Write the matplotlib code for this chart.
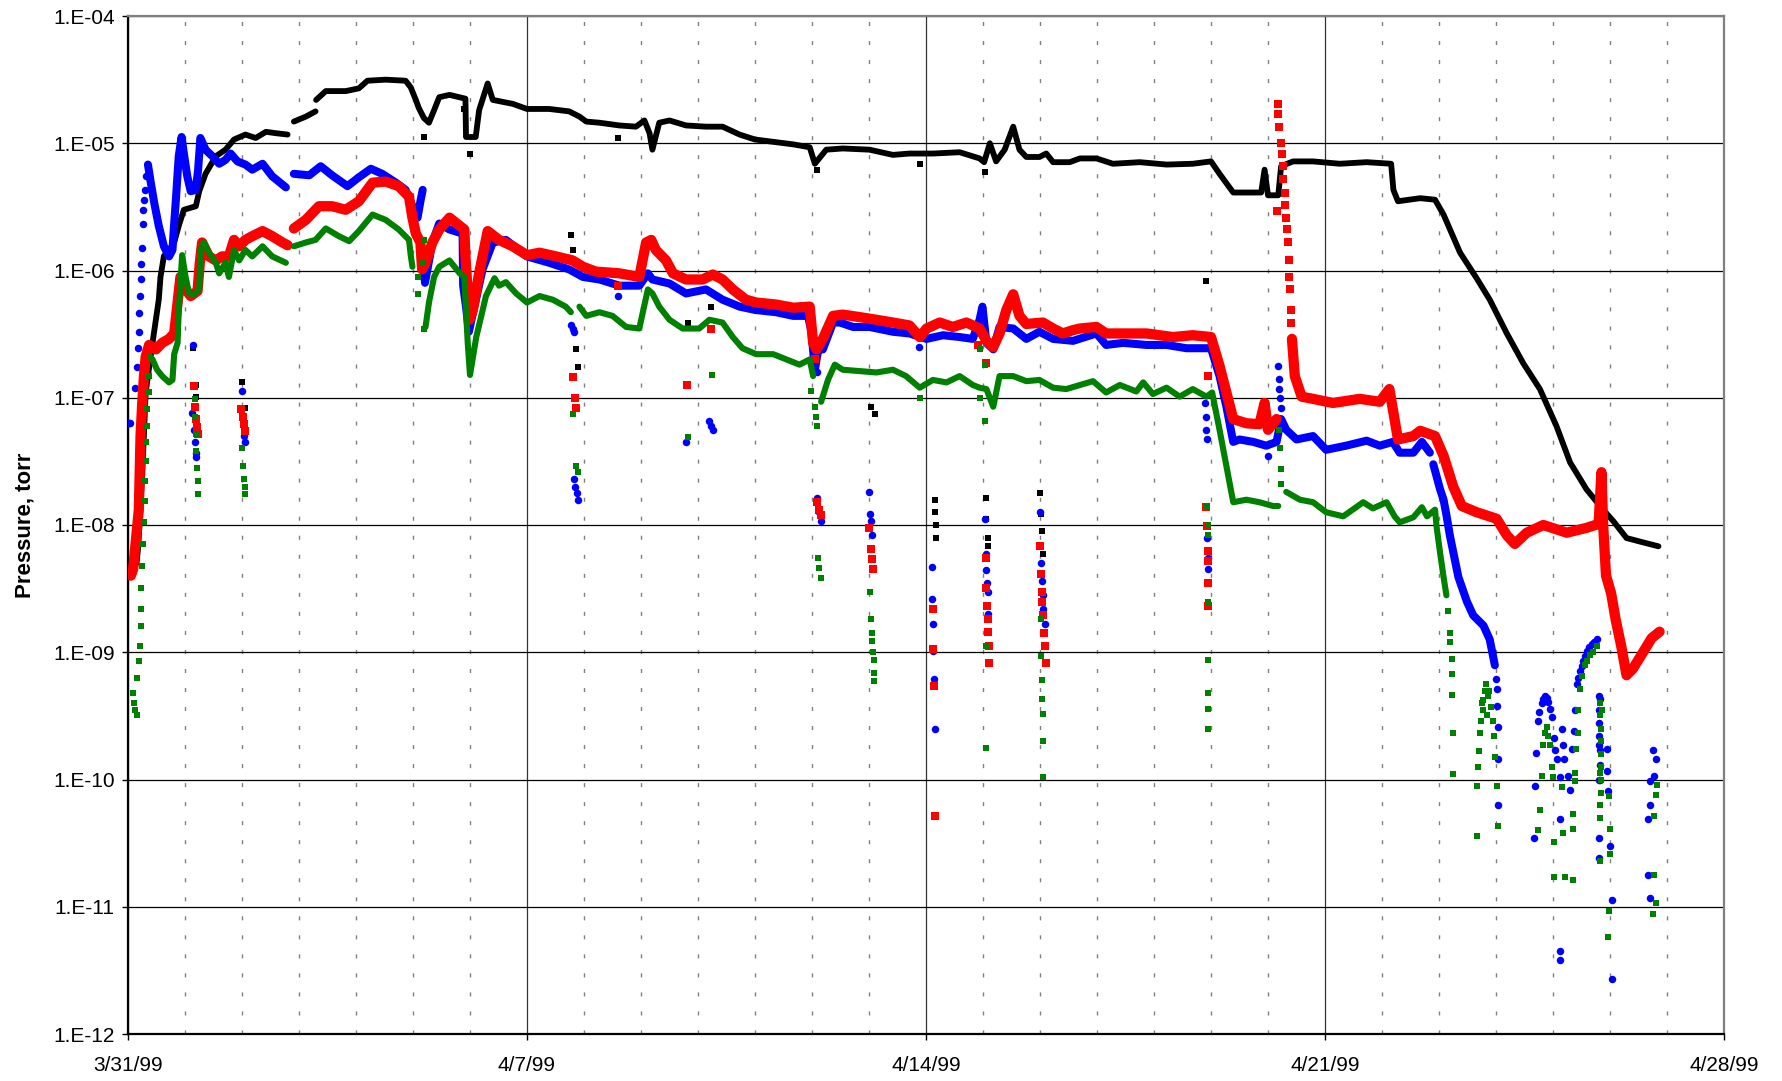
"""
Chamber pressure history, 3/31/99 - 4/28/99, four gauges on a log scale.
Dense stretches are drawn as thick traces, dropouts and scattered
readings as individual markers.
"""
import matplotlib
matplotlib.use("Agg")
import matplotlib.pyplot as plt
import numpy as np
from matplotlib.ticker import FixedLocator, FixedFormatter, NullLocator

nan = np.nan

# ---- axis labels ----
x_ticks = [0, 7, 14, 21, 28]
x_labels = ["3/31/99", "4/7/99", "4/14/99", "4/21/99", "4/28/99"]
y_ticks = [1e-12, 1e-11, 1e-10, 1e-9, 1e-8, 1e-7, 1e-6, 1e-5, 1e-4]
y_labels = ["1.E-12", "1.E-11", "1.E-10", "1.E-09", "1.E-08",
            "1.E-07", "1.E-06", "1.E-05", "1.E-04"]

# ---- black gauge (days since 3/31/99, torr) ----
black_day = [0.15, 0.18, 0.25, 0.31, 0.43, 0.54, 0.57, 0.63, 0.72, 0.81, 0.89, 0.98,
             1.19, 1.25, 1.36, 1.54, 1.71, 1.86, 2.06, 2.24, 2.42, 2.59, 2.80, nan,
             2.91, 3.12, 3.29, nan, 3.30, 3.47, 3.82, 4.05, 4.20, 4.52, 4.87, 4.96,
             5.05, 5.10, 5.19, 5.28, 5.37, 5.46, 5.64, 5.92, 5.93, 6.10, 6.16, 6.31,
             6.40, 6.75, 7.00, 7.39, 7.74, 7.92, 8.04, 8.27, 8.62, 8.91, 9.06, 9.15,
             9.20, 9.32, 9.50, 9.79, 10.14, 10.43, 10.73, 11.00, 11.67, 11.96, 12.05,
             12.25, 12.54, 13.01, 13.42, 13.71, 14.12, 14.59, 14.94, 15.02, 15.12,
             15.23, 15.38, 15.53, 15.64, 15.76, 15.99, 16.11, 16.23, 16.52, 16.70,
             16.99, 17.28, 17.75, 18.22, 18.68, 19.00, 19.15, 19.39, 19.62, 19.88,
             19.94, 20.00, 20.18, 20.23, 20.44, 20.79, 21.26, 21.73, 22.16, 22.20,
             22.28, 22.67, 22.93, 23.08, 23.37, 23.66, 23.89, 24.19, 24.48, 24.77,
             25.06, 25.30, 25.59, 25.88, 26.06, 26.29, 26.53, 26.85]
black_p = [5.0e-9, 6.8e-9, 2.5e-8, 1.1e-7, 2.7e-7, 5.9e-7, 8.9e-7, 1.3e-6, 1.45e-6, 1.66e-6, 2.24e-6, 3.0e-6,
           3.2e-6, 4.2e-6, 5.75e-6, 7.9e-6, 8.9e-6, 1.07e-5, 1.17e-5, 1.1e-5, 1.23e-5, 1.2e-5, 1.17e-5, nan,
           1.48e-5, 1.62e-5, 1.78e-5, nan, 2.19e-5, 2.57e-5, 2.57e-5, 2.7e-5, 3.1e-5, 3.16e-5, 3.1e-5, 2.75e-5,
           2.19e-5, 1.9e-5, 1.58e-5, 1.45e-5, 1.82e-5, 2.3e-5, 2.4e-5, 2.24e-5, 1.12e-5, 1.12e-5, 1.82e-5, 2.95e-5,
           2.19e-5, 2.04e-5, 1.86e-5, 1.86e-5, 1.78e-5, 1.62e-5, 1.48e-5, 1.45e-5, 1.38e-5, 1.35e-5, 1.51e-5, 1.2e-5,
           8.9e-6, 1.45e-5, 1.51e-5, 1.38e-5, 1.35e-5, 1.35e-5, 1.17e-5, 1.07e-5, 9.8e-6, 9.3e-6, 6.9e-6,
           8.9e-6, 9.1e-6, 8.9e-6, 8.1e-6, 8.3e-6, 8.3e-6, 8.5e-6, 7.6e-6, 7.1e-6, 1.0e-5,
           7.2e-6, 8.9e-6, 1.35e-5, 8.9e-6, 7.8e-6, 7.8e-6, 8.3e-6, 7.1e-6, 7.1e-6, 7.6e-6,
           7.6e-6, 6.9e-6, 7.1e-6, 6.8e-6, 6.9e-6, 7.2e-6, 5.75e-6, 4.1e-6, 4.1e-6, 4.1e-6,
           6.2e-6, 3.9e-6, 3.9e-6, 6.6e-6, 7.2e-6, 7.2e-6, 6.9e-6, 7.1e-6, 6.9e-6, 4.3e-6,
           3.5e-6, 3.7e-6, 3.6e-6, 2.75e-6, 1.38e-6, 8.7e-7, 5.9e-7, 3.2e-7, 1.86e-7, 1.17e-7,
           6.0e-8, 3.1e-8, 1.9e-8, 1.32e-8, 1.07e-8, 7.9e-9, 7.4e-9, 6.8e-9]
black_dot_day = [1.14, 1.19, 1.20, 2.00, 2.05, 5.19, 5.90, 6.00, 7.77, 7.80, 7.86, 7.89,
                 8.59, 9.82, 10.23, 12.08, 13.04, 13.10, 13.89, 14.15, 14.16, 14.17, 14.18,
                 15.04, 15.05, 15.06, 15.08, 15.09, 16.00, 16.02, 16.04, 16.06, 18.92]
black_dot_p = [2.45e-7, 1.26e-7, 1.02e-7, 1.32e-7, 8.3e-8, 1.12e-5, 1.86e-5, 8.3e-6, 1.9e-6, 1.45e-6, 2.4e-7, 1.74e-7,
               1.1e-5, 3.9e-7, 5.2e-7, 6.2e-6, 8.5e-8, 7.4e-8, 6.9e-6, 1.58e-8, 1.26e-8, 1.0e-8, 7.9e-9,
               5.9e-6, 1.62e-8, 1.12e-8, 7.9e-9, 6.8e-9, 1.78e-8, 1.23e-8, 8.9e-9, 5.9e-9, 8.3e-7]

# ---- blue gauge ----
blue_day = [0.35, 0.40, 0.46, 0.54, 0.63, 0.72, 0.78, 0.81, 0.84, 0.87, 0.89, 0.94,
            0.98, 1.04, 1.10, 1.19, 1.23, 1.27, 1.36, 1.48, 1.60, 1.71, 1.80, 1.92, 2.06,
            2.18, 2.36, 2.53, 2.77, nan, 2.91, 3.18, 3.38, 3.58, 3.85, 4.05, 4.26, 4.46,
            4.70, 4.87, 4.99, 5.08, 5.13, 5.17, nan, 5.19, 5.21, 5.34, 5.46, 5.64, 5.87,
            5.88, 5.93, 5.98, 6.22, 6.40, 6.63, 7.00, 7.39, 7.74, 7.98, 8.27, 8.62, 8.97,
            9.12, 9.20, 9.50, 9.79, 10.14, 10.43, 10.73, 11.00, 11.37, 11.67, 11.93, 11.99,
            12.05, 12.11, 12.19, 12.37, 12.49, 12.72, 13.01, 13.42, 13.71, 14.01, 14.30,
            14.59, 14.82, 14.94, 14.99, 15.06, 15.18, 15.29, 15.53, 15.76, 15.99, 16.23,
            16.58, 16.99, 17.16, 17.46, 17.87, 18.22, 18.57, 19.00, 19.15, 19.27, 19.39,
            19.50, 19.74, 19.97, 20.15, 20.23, 20.32, 20.50, 20.79, 21.02, 21.37, 21.73,
            21.96, 22.19, 22.31, 22.55, 22.70, 22.84, nan, 22.90, 23.02, 23.08, 23.13,
            23.19, 23.34, 23.49, 23.60, 23.78, 23.89, 23.98]
blue_p = [6.8e-6, 4.9e-6, 3.4e-6, 2.24e-6, 1.55e-6, 1.29e-6, 1.45e-6, 2.34e-6, 3.6e-6, 5.75e-6, 7.9e-6, 1.12e-5,
          8.3e-6, 5.5e-6, 4.2e-6, 4.3e-6, 6.2e-6, 1.1e-5, 8.9e-6, 7.9e-6, 6.9e-6, 7.4e-6, 8.3e-6, 7.2e-6, 6.8e-6,
          6.2e-6, 6.9e-6, 5.5e-6, 4.5e-6, nan, 5.75e-6, 5.6e-6, 6.6e-6, 5.6e-6, 4.6e-6, 5.4e-6, 6.3e-6, 5.75e-6,
          4.9e-6, 4.3e-6, 3.2e-6, 2.6e-6, 3.5e-6, 4.3e-6, nan, 1.15e-6, 8.0e-7, 1.66e-6, 2.34e-6, 2.1e-6, 1.95e-6,
          7.6e-7, 5.2e-7, 3.3e-7, 1.02e-6, 1.66e-6, 1.74e-6, 1.29e-6, 1.15e-6, 1.02e-6, 8.9e-7, 8.5e-7, 7.6e-7, 7.6e-7,
          9.5e-7, 8.5e-7, 7.9e-7, 6.6e-7, 7.1e-7, 5.9e-7, 5.2e-7, 4.9e-7, 4.7e-7, 4.4e-7, 4.4e-7, 3.3e-7,
          1.66e-7, 2.4e-7, 2.4e-7, 3.9e-7, 3.9e-7, 3.6e-7, 3.6e-7, 3.3e-7, 3.2e-7, 2.9e-7, 3.1e-7,
          3.0e-7, 2.9e-7, 4.1e-7, 5.2e-7, 2.7e-7, 2.4e-7, 3.6e-7, 3.5e-7, 2.9e-7, 3.3e-7, 2.9e-7,
          2.8e-7, 3.2e-7, 2.6e-7, 2.7e-7, 2.6e-7, 2.6e-7, 2.45e-7, 2.45e-7, 1.48e-7, 8.5e-8, 4.5e-8,
          4.7e-8, 4.5e-8, 4.2e-8, 4.5e-8, 6.8e-8, 5.6e-8, 4.7e-8, 5.0e-8, 3.9e-8, 4.2e-8, 4.6e-8,
          4.2e-8, 4.5e-8, 3.7e-8, 3.7e-8, 4.5e-8, 3.7e-8, nan, 3.0e-8, 1.9e-8, 1.58e-8, 1.2e-8,
          8.3e-9, 3.9e-9, 2.5e-9, 1.95e-9, 1.62e-9, 1.26e-9, 7.9e-10]
blue_dot_day = [0.00, 0.02, 0.04, 0.13, 0.16, 0.18, 0.19, 0.20, 0.21, 0.22, 0.23, 0.25,
                0.26, 0.27, 0.28, 0.30, 0.32,
                1.14, 1.12, 1.15, 1.17, 1.19, 1.20, 2.00, 2.04, 2.05,
                7.77, 7.80, 7.83, 7.83, 7.85, 7.87, 7.89, 8.59, 9.79, 10.20, 10.23, 10.26,
                12.05, 12.08, 12.08, 12.12, 12.16, 13.00, 13.02, 13.04, 13.06, 13.87,
                14.10, 14.11, 14.12, 14.13, 14.14, 14.15,
                15.04, 15.05, 15.06, 15.07, 15.08, 15.09,
                16.00, 16.02, 16.04, 16.05, 16.06, 16.08,
                18.90, 18.91, 18.92, 18.93, 18.93, 18.94, 18.94, 20.00,
                20.18, 20.19, 20.20, 20.21, 20.23,
                24.00, 24.01, 24.02, 24.03, 24.03, 24.04,
                24.66, 24.68, 24.70, 24.73, 24.75, 24.80, 24.83, 24.86, 24.89, 24.92, 24.95,
                24.98, 25.01, 25.04, 25.07, 25.12, 25.15, 25.18, 25.20, 25.26, 25.30, 25.33,
                25.36, 25.39, 25.42, 25.44, 25.47, 25.50, 25.53, 25.56, 25.59, 25.63, 25.68,
                25.72, 25.77, 25.13, 25.13, 25.12,
                25.80, 25.80, 25.81, 25.81, 25.82, 25.82, 25.83, 25.82, 25.81, 25.80, 25.80, 25.81,
                25.94, 25.95, 25.97, 26.00, 26.03, 26.03,
                26.67, 26.67, 26.70, 26.76, 26.80, 26.78, 26.70, 26.70]
blue_dot_p = [6.3e-8, 6.3e-8, 6.3e-8, 1.2e-7, 1.74e-7, 2.45e-7, 3.3e-7, 4.6e-7, 6.3e-7, 8.5e-7, 1.12e-6, 1.51e-6,
              2.34e-6, 3.0e-6, 3.6e-6, 4.3e-6, 5.5e-6,
              2.6e-7, 7.6e-8, 5.6e-8, 4.5e-8, 3.7e-8, 3.4e-8, 1.12e-7, 5.0e-8, 4.5e-8,
              3.7e-7, 3.5e-7, 3.3e-7, 2.3e-8, 2.0e-8, 1.8e-8, 1.58e-8, 6.3e-7, 4.5e-8, 6.6e-8, 6.0e-8, 5.6e-8,
              1.86e-7, 1.58e-7, 1.62e-8, 1.26e-8, 1.07e-8, 1.82e-8, 1.23e-8, 1.07e-8, 8.3e-9, 2.5e-7,
              4.7e-9, 2.6e-9, 1.66e-9, 1.02e-9, 6.2e-10, 2.5e-10,
              1.12e-8, 5.9e-9, 4.4e-9, 3.5e-9, 3.0e-9, 2.0e-9,
              1.26e-8, 5.0e-9, 3.6e-9, 2.8e-9, 2.2e-9, 1.66e-9,
              9.1e-8, 7.0e-8, 5.6e-8, 4.7e-8, 7.9e-9, 5.5e-9, 4.5e-9, 3.5e-8,
              1.78e-7, 1.41e-7, 1.17e-7, 1.0e-7, 8.3e-8,
              6.2e-10, 5.1e-10, 3.8e-10, 2.6e-10, 1.45e-10, 6.3e-11,
              3.5e-11, 8.9e-11, 1.62e-10, 2.9e-10, 3.4e-10, 4.0e-10, 4.3e-10, 4.5e-10, 4.4e-10, 4.1e-10, 3.6e-10,
              3.1e-10, 2.1e-10, 1.7e-10, 1.45e-10, 1.05e-10, 2.5e-10, 1.86e-10, 1.45e-10, 1.07e-10, 8.3e-11, 1.74e-10,
              2.4e-10, 3.5e-10, 5.6e-10, 6.3e-10, 7.1e-10, 7.8e-10, 8.5e-10, 9.3e-10, 1.02e-9, 1.1e-9, 1.17e-9,
              1.2e-9, 1.26e-9, 4.9e-11, 4.5e-12, 3.8e-12,
              4.5e-10, 3.5e-10, 2.8e-10, 2.2e-10, 1.7e-10, 1.3e-10, 4.3e-10, 1.0e-10, 1.86e-10, 1.0e-10, 3.5e-11, 2.4e-11,
              1.74e-10, 1.17e-10, 8.1e-11, 3.0e-11, 1.12e-11, 2.7e-12,
              4.9e-11, 1.78e-11, 1.17e-11, 1.7e-10, 1.45e-10, 1.07e-10, 9.8e-11, 6.3e-11]

# ---- red gauge ----
red_day = [0.05, 0.09, 0.19, 0.22, 0.25, 0.28, 0.31, 0.37, 0.49, 0.60, 0.72, 0.81, 0.87,
           0.92, 1.01, 1.10, 1.22, 1.26, 1.30, 1.42, 1.54, 1.65, 1.77, 1.86, 1.95, 2.06,
           2.18, 2.36, 2.53, 2.71, 2.80, nan, 2.91, 3.12, 3.35, 3.58, 3.82, 4.05, 4.29,
           4.52, 4.75, 4.93, 4.99, 5.05, 5.13, 5.16, 5.22, 5.34, 5.46, 5.64, 5.82, 5.90,
           5.92, 5.96, 5.99, 6.05, 6.16, 6.31, 6.51, 6.75, 7.00, 7.22, 7.51, 7.80, 7.98,
           8.21, 8.62, 8.97, 9.09, 9.18, 9.26, 9.44, 9.56, 9.79, 10.08, 10.26, 10.43,
           10.61, 10.84, 11.02, 11.37, 11.67, 11.96, 12.02, 12.08, 12.19, 12.37, 12.54,
           12.84, 13.13, 13.42, 13.71, 13.89, 14.01, 14.24, 14.47, 14.71, 14.94, 15.06,
           15.18, 15.29, 15.41, 15.53, 15.64, 15.76, 16.05, 16.23, 16.40, 16.58, 16.70,
           16.99, 17.16, 17.46, 17.87, 18.33, 18.68, 19.00, 19.15, 19.27, 19.39, 19.62,
           19.85, 19.94, 20.00, 20.15, nan, 20.42, 20.47, 20.59, 20.79, 21.14, 21.61,
           21.96, 22.13, 22.22, 22.28, 22.55, 22.67, 22.93, 23.08, 23.25, 23.40, 23.66,
           24.01, 24.19, 24.33, 24.54, 24.83, 25.24, 25.59, 25.80, 25.85, 25.88, 25.93,
           26.02, 26.10, 26.20, 26.29, 26.40, 26.55, 26.73, 26.87]
red_p = [4.0e-9, 4.5e-9, 1.32e-8, 5.0e-8, 9.1e-8, 1.48e-7, 2.1e-7, 2.6e-7, 2.4e-7, 2.7e-7, 2.9e-7, 3.2e-7, 5.6e-7,
         8.9e-7, 7.1e-7, 6.3e-7, 6.9e-7, 1.15e-6, 1.66e-6, 1.29e-6, 1.2e-6, 1.29e-6, 1.29e-6, 1.74e-6, 1.55e-6, 1.74e-6,
         1.86e-6, 2.04e-6, 1.86e-6, 1.66e-6, 1.58e-6, nan, 2.14e-6, 2.5e-6, 3.2e-6, 3.2e-6, 3.0e-6, 3.5e-6, 4.9e-6,
         5.0e-6, 4.6e-6, 3.8e-6, 2.6e-6, 1.95e-6, 1.66e-6, 1.02e-6, 1.15e-6, 1.66e-6, 2.1e-6, 2.6e-6, 2.24e-6, 2.1e-6,
         1.29e-6, 6.6e-7, 4.1e-7, 4.9e-7, 9.5e-7, 2.04e-6, 1.74e-6, 1.55e-6, 1.32e-6, 1.38e-6, 1.29e-6, 1.2e-6, 1.07e-6,
         9.8e-7, 9.5e-7, 8.9e-7, 1.66e-6, 1.74e-6, 1.45e-6, 1.2e-6, 9.5e-7, 8.5e-7, 8.5e-7, 9.3e-7, 8.5e-7,
         7.1e-7, 5.9e-7, 5.6e-7, 5.4e-7, 5.1e-7, 5.2e-7, 2.7e-7, 2.4e-7, 2.9e-7, 4.4e-7, 4.5e-7,
         4.3e-7, 4.1e-7, 3.9e-7, 3.7e-7, 3.0e-7, 3.5e-7, 3.9e-7, 3.6e-7, 3.9e-7, 3.5e-7, 2.8e-7,
         2.5e-7, 3.2e-7, 4.9e-7, 6.5e-7, 4.4e-7, 3.8e-7, 3.9e-7, 3.5e-7, 3.2e-7, 3.4e-7, 3.5e-7,
         3.6e-7, 3.2e-7, 3.2e-7, 3.2e-7, 3.0e-7, 3.1e-7, 3.0e-7, 1.78e-7, 1.1e-7, 6.8e-8, 6.3e-8,
         6.2e-8, 9.1e-8, 5.6e-8, 6.8e-8, nan, 2.9e-7, 1.48e-7, 1.02e-7, 9.8e-8, 9.1e-8, 9.8e-8,
         9.3e-8, 1.17e-7, 6.8e-8, 4.7e-8, 5.0e-8, 5.5e-8, 5.0e-8, 3.5e-8, 2.0e-8, 1.41e-8, 1.26e-8,
         1.12e-8, 8.3e-9, 7.1e-9, 8.7e-9, 1.0e-8, 8.7e-9, 9.5e-9, 1.02e-8, 2.6e-8, 1.0e-8, 4.0e-9,
         2.9e-9, 1.8e-9, 1.1e-9, 6.6e-10, 7.4e-10, 9.5e-10, 1.29e-9, 1.45e-9]
red_dot_day = [1.16, 1.17, 1.19, 1.21, 1.22, 1.98, 2.01, 2.04, 2.06, 7.80, 7.84, 7.86,
               8.59, 9.80, 10.23, 12.05, 12.08, 12.12, 12.15, 13.00, 13.03, 13.05, 13.07,
               14.12, 14.13, 14.14, 14.16, 14.91, 15.06,
               15.05, 15.06, 15.07, 15.08, 15.09, 15.10, 15.11,
               16.00, 16.02, 16.03, 16.04, 16.05, 16.07, 16.08, 16.10,
               18.94, 18.92, 18.93, 18.94, 18.94, 18.95, 18.95,
               20.15, 20.17, 20.18, 20.20, 20.22, 20.24, 20.26, 20.27, 20.29, 20.30, 20.32,
               20.33, 20.35, 20.36, 20.37, 20.38, 20.40, 20.41]
red_dot_p = [1.23e-7, 8.5e-8, 6.8e-8, 5.9e-8, 5.2e-8, 8.1e-8, 7.1e-8, 6.2e-8, 5.5e-8, 1.45e-7, 1.0e-7, 8.3e-8,
             7.6e-7, 1.26e-7, 3.5e-7, 2.0e-7, 1.51e-8, 1.32e-8, 1.2e-8, 9.5e-9, 6.5e-9, 5.4e-9, 4.5e-9,
             2.2e-9, 1.07e-9, 5.4e-10, 5.2e-11, 2.6e-7, 1.86e-7,
             5.5e-9, 3.2e-9, 2.3e-9, 1.82e-9, 1.45e-9, 1.12e-9, 8.3e-10,
             6.8e-9, 4.1e-9, 3.0e-9, 2.5e-9, 1.95e-9, 1.41e-9, 1.12e-9, 8.3e-10,
             1.48e-7, 1.38e-8, 9.8e-9, 6.3e-9, 5.2e-9, 3.5e-9, 2.3e-9,
             2.95e-6, 2.04e-5, 1.7e-5, 1.35e-5, 1.0e-5, 8.3e-6, 6.6e-6, 5.2e-6, 4.1e-6, 3.3e-6, 2.6e-6,
             2.1e-6, 1.66e-6, 1.2e-6, 8.9e-7, 7.1e-7, 4.9e-7, 3.9e-7]

# ---- green gauge ----
green_day = [0.39, 0.43, 0.51, 0.60, 0.72, 0.78, 0.81, 0.87, 0.89, 0.92, 0.95, 1.01,
             1.07, 1.16, 1.25, 1.27, 1.33, 1.42, 1.54, 1.60, 1.71, 1.77, 1.86, 1.95,
             2.06, 2.18, 2.36, 2.53, 2.77, nan, 2.91, 3.12, 3.29, 3.47, 3.70, 3.88,
             4.05, 4.29, 4.52, 4.75, 4.93, 4.96, 4.99, nan, 5.22, 5.28, 5.37, 5.46,
             5.64, 5.82, 5.90, 5.93, 5.96, 6.00, 6.11, 6.28, 6.43, 6.51, 6.63, 6.81,
             7.00, 7.22, 7.45, 7.68, 7.77, nan, 7.92, 8.04, 8.27, 8.50, 8.74, 8.97,
             9.12, 9.20, 9.32, 9.50, 9.73, 10.02, 10.20, 10.43, 10.61, 10.78, 11.02,
             11.32, 11.55, 11.78, 11.96, 12.02, nan, 12.16, 12.28, 12.40, 12.54, 12.84,
             13.13, 13.42, 13.65, 13.89, 14.12, 14.36, 14.59, 14.82, 14.94, 15.06,
             15.18, 15.29, 15.53, 15.76, 15.99, 16.23, 16.46, 16.70, 16.93, 17.16,
             17.40, 17.69, 17.81, 17.98, 18.22, 18.45, 18.68, 18.92, 19.02, 19.15,
             19.27, 19.39, 19.62, 19.85, 20.09, 20.18, nan, 20.32, 20.56, 20.79, 21.02,
             21.32, 21.67, 21.84, 22.08, 22.22, 22.31, 22.55, 22.70, 22.79, 22.93,
             22.96, 23.02, 23.08, 23.13]
green_p = [2.1e-7, 2.0e-7, 1.66e-7, 1.48e-7, 1.32e-7, 1.38e-7, 2.2e-7, 2.7e-7, 4.9e-7, 7.9e-7, 1.32e-6, 8.9e-7,
           6.6e-7, 6.5e-7, 7.1e-7, 1.45e-6, 1.66e-6, 1.38e-6, 1.15e-6, 9.5e-7, 1.15e-6, 8.9e-7, 1.45e-6, 1.2e-6,
           1.45e-6, 1.29e-6, 1.55e-6, 1.29e-6, 1.15e-6, nan, 1.55e-6, 1.66e-6, 1.74e-6, 2.14e-6, 1.86e-6, 1.7e-6,
           2.04e-6, 2.75e-6, 2.5e-6, 2.1e-6, 1.74e-6, 1.32e-6, 1.07e-6, nan, 3.6e-7, 5.6e-7, 8.9e-7, 1.07e-6,
           1.2e-6, 9.5e-7, 8.9e-7, 4.9e-7, 2.7e-7, 1.51e-7, 3.0e-7, 6.3e-7, 8.7e-7, 7.6e-7, 8.1e-7, 6.6e-7,
           5.6e-7, 6.3e-7, 5.9e-7, 5.2e-7, 4.7e-7, nan, 5.2e-7, 4.4e-7, 4.7e-7, 4.4e-7, 3.6e-7, 3.5e-7,
           7.1e-7, 6.6e-7, 5.2e-7, 4.1e-7, 3.5e-7, 3.5e-7, 4.1e-7, 3.9e-7, 3.0e-7, 2.45e-7, 2.2e-7,
           2.2e-7, 2.0e-7, 1.82e-7, 2.0e-7, 1.48e-7, nan, 9.3e-8, 1.38e-7, 1.82e-7, 1.66e-7, 1.62e-7,
           1.58e-7, 1.66e-7, 1.48e-7, 1.2e-7, 1.38e-7, 1.32e-7, 1.48e-7, 1.26e-7, 1.2e-7, 1.17e-7,
           8.5e-8, 1.48e-7, 1.48e-7, 1.35e-7, 1.38e-7, 1.2e-7, 1.17e-7, 1.26e-7, 1.35e-7, 1.1e-7,
           1.26e-7, 1.12e-7, 1.32e-7, 1.07e-7, 1.2e-7, 1.02e-7, 1.17e-7, 1.02e-7, 1.1e-7, 5.6e-8,
           2.9e-8, 1.51e-8, 1.58e-8, 1.51e-8, 1.41e-8, 1.41e-8, nan, 1.82e-8, 1.58e-8, 1.51e-8, 1.26e-8,
           1.17e-8, 1.51e-8, 1.35e-8, 1.51e-8, 1.17e-8, 1.05e-8, 1.15e-8, 1.38e-8, 1.17e-8, 1.32e-8,
           9.5e-9, 6.0e-9, 3.9e-9, 2.8e-9]
green_dot_day = [0.09, 0.10, 0.12, 0.16, 0.15, 0.19, 0.21, 0.22, 0.23, 0.23, 0.25, 0.27,
                 0.28, 0.29, 0.30, 0.31, 0.32, 0.33, 0.34, 0.36, 0.37,
                 1.17, 1.18, 1.19, 1.20, 1.21, 1.22, 1.23, 2.00, 2.02, 2.04, 2.05, 2.06,
                 5.08, 5.08, 5.16, 5.19, 5.19, 7.80, 7.86, 7.89, 9.82, 10.25,
                 11.99, 12.05, 12.07, 12.08, 12.10, 12.13, 12.16,
                 13.02, 13.03, 13.05, 13.06, 13.07, 13.08, 13.09, 13.09, 13.89,
                 14.94, 14.94, 15.03, 15.04, 15.05, 15.05,
                 16.01, 16.02, 16.04, 16.04, 16.05, 16.05, 16.06,
                 18.93, 18.94, 18.93, 18.94, 18.94, 18.94, 18.94, 18.95, 18.95,
                 20.20, 20.21, 20.22, 20.23,
                 23.16, 23.19, 23.20, 23.22, 23.22, 23.23, 23.24, 23.25,
                 23.66, 23.66, 23.69, 23.71, 23.72, 23.74, 23.75, 23.77, 23.78, 23.80, 23.83,
                 23.84, 23.86, 23.88, 23.92, 23.95, 23.97, 23.99, 24.01, 24.03,
                 24.74, 24.77, 24.80, 24.83, 24.86, 24.89, 24.92, 24.95, 24.98, 25.00, 25.02,
                 25.02, 25.15, 25.18, 25.21, 25.35, 25.35, 25.35, 25.39, 25.39, 25.41, 25.43,
                 25.44, 25.47, 25.50, 25.56, 25.60, 25.65, 25.70, 25.77,
                 25.83, 25.83, 25.84, 25.84, 25.84, 25.85, 25.85, 25.84, 25.83, 25.83,
                 25.82, 25.82, 25.86, 25.98, 26.00, 26.00, 25.99, 25.96,
                 26.77, 26.76, 26.80, 26.78, 26.80, 26.82]
green_dot_p = [4.8e-10, 4.0e-10, 3.5e-10, 3.2e-10, 6.3e-10, 8.5e-10, 1.12e-9, 1.62e-9, 2.2e-9, 3.2e-9, 4.8e-9, 7.1e-9,
               1.05e-8, 1.55e-8, 2.2e-8, 3.2e-8, 4.5e-8, 6.0e-8, 8.1e-8, 1.1e-7, 1.48e-7,
               9.8e-8, 7.1e-8, 5.2e-8, 3.8e-8, 2.8e-8, 2.2e-8, 1.74e-8, 4.0e-8, 2.9e-8, 2.3e-8, 2.0e-8, 1.74e-8,
               6.5e-7, 8.9e-7, 1.15e-6, 1.74e-6, 3.5e-7, 7.4e-8, 2.9e-8, 2.6e-8, 4.9e-8, 1.51e-7,
               1.12e-7, 8.5e-8, 7.1e-8, 6.0e-8, 5.5e-9, 4.6e-9, 3.8e-9,
               3.0e-9, 1.82e-9, 1.41e-9, 1.23e-9, 1.0e-9, 8.7e-10, 6.9e-10, 5.9e-10, 1.0e-7,
               2.4e-7, 1.0e-7, 1.82e-7, 6.6e-8, 1.12e-9, 1.78e-10,
               1.82e-9, 9.3e-10, 6.0e-10, 4.3e-10, 3.3e-10, 2.0e-10, 1.05e-10,
               1.41e-8, 1.0e-8, 1.38e-8, 8.3e-9, 2.5e-9, 8.7e-10, 4.8e-10, 3.6e-10, 2.5e-10,
               5.6e-8, 4.0e-8, 2.75e-8, 2.1e-8,
               2.1e-9, 1.41e-9, 1.2e-9, 8.9e-10, 6.8e-10, 4.6e-10, 2.3e-10, 1.1e-10,
               8.9e-11, 3.6e-11, 1.26e-10, 1.66e-10, 2.3e-10, 2.9e-10, 4.0e-10, 3.5e-10, 4.2e-10, 5.0e-10, 5.6e-10,
               3.2e-10, 4.5e-10, 5.0e-10, 3.7e-10, 2.9e-10, 2.2e-10, 1.51e-10, 8.9e-11, 4.3e-11,
               4.0e-11, 5.8e-11, 1.07e-10, 1.86e-10, 2.3e-10, 2.6e-10, 2.2e-10, 1.86e-10, 1.26e-10, 1.05e-10, 3.2e-11,
               1.7e-11, 8.7e-11, 3.8e-11, 1.7e-11, 5.4e-11, 4.1e-11, 1.62e-11, 9.8e-11, 1.12e-10, 1.74e-10, 2.3e-10,
               3.5e-10, 5.1e-10, 6.5e-10, 7.9e-10, 8.5e-10, 9.5e-10, 1.0e-9, 1.12e-9,
               4.0e-10, 3.2e-10, 2.5e-10, 2.0e-10, 1.58e-10, 1.26e-10, 1.0e-10, 7.9e-11, 6.3e-11, 5.0e-11,
               1.12e-10, 2.3e-11, 3.5e-10, 7.4e-11, 4.1e-11, 2.6e-11, 9.3e-12, 5.8e-12,
               1.78e-11, 8.7e-12, 1.07e-11, 5.2e-11, 7.6e-11, 9.1e-11]


plt.rcParams["font.family"] = ["Liberation Sans", "DejaVu Sans"]

fig = plt.figure(figsize=(17.82, 10.81), dpi=100)
ax = fig.add_axes([128 / 1782, 1 - 1034 / 1081, 1596 / 1782, 1018 / 1081])

series = [
    ("#000000", "s", 4.2, 4.0, black_day, black_p, black_dot_day, black_dot_p),
    ("#0000ff", "o", 5.8, 5.4, blue_day, blue_p, blue_dot_day, blue_dot_p),
    ("#ff0000", "s", 7.4, 6.0, red_day, red_p, red_dot_day, red_dot_p),
    ("#008000", "s", 4.4, 4.3, green_day, green_p, green_dot_day, green_dot_p),
]
for z, (color, marker, lw, ms, d, p, dd, dp) in enumerate(series):
    ax.plot(d, p, "-", color=color, lw=lw, solid_capstyle="round",
            solid_joinstyle="round", zorder=3 + z)
    ax.plot(dd, dp, linestyle="none", marker=marker, ms=ms, color=color,
            mec=color, mew=0, zorder=3 + z)

ax.set_yscale("log")
ax.set_ylim(1e-12, 1e-4)
ax.set_xlim(0, 28)

ax.yaxis.set_major_locator(FixedLocator(y_ticks))
ax.yaxis.set_major_formatter(FixedFormatter(y_labels))
ax.yaxis.set_minor_locator(NullLocator())
ax.xaxis.set_major_locator(FixedLocator(x_ticks))
ax.xaxis.set_major_formatter(FixedFormatter(x_labels))
ax.xaxis.set_minor_locator(FixedLocator([d for d in range(1, 28) if d % 7]))

# gridlines: solid decades and weeks, dotted days
ax.grid(which="major", axis="y", color="black", lw=0.9, zorder=1)
ax.grid(which="major", axis="x", color="#333333", lw=0.9, zorder=1)
ax.grid(which="minor", axis="x", color="#808080", lw=1.0,
        linestyle=(0, (2.9, 10.8)), zorder=1)
ax.set_axisbelow(True)

ax.tick_params(axis="both", which="major", direction="out", length=4.5,
               width=1.0, labelsize=15, colors="black")
ax.tick_params(axis="y", pad=5)
ax.tick_params(axis="x", pad=11)
ax.tick_params(axis="x", which="minor", length=0)

for side in ("left", "bottom"):
    ax.spines[side].set_color("black")
    ax.spines[side].set_linewidth(1.6)
for side in ("top", "right"):
    ax.spines[side].set_color("#808080")
    ax.spines[side].set_linewidth(1.6)

fig.text(25 / 1782, 1 - 525 / 1081, "Pressure, torr", rotation=90,
         ha="center", va="center", fontsize=16, fontweight="bold")

fig.savefig("out.png", dpi=100)
